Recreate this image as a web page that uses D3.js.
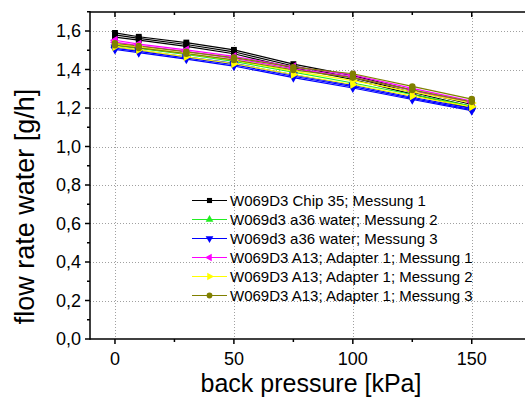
<!DOCTYPE html>
<html><head><meta charset="utf-8">
<script src="https://cdn.jsdelivr.net/npm/d3@7"></script>
<style>body{margin:0;background:#fff}svg{display:block}text{font-family:Arial,"Liberation Sans",sans-serif}</style>
</head><body>
<script>
const pressure = [0, 10, 30, 50, 75, 100, 125, 150];
const seriesNames = ["W069D3 Chip 35; Messung 1","W069d3 a36 water; Messung 2","W069d3 a36 water; Messung 3","W069D3 A13; Adapter 1; Messung 1","W069D3 A13; Adapter 1; Messung 2","W069D3 A13; Adapter 1; Messung 3"];
const seriesColors = ["#000000","#22ee22","#0000ff","#ff00ff","#ffff00","#808000"];
const seriesSymbols = ["square","triangleUp","triangleDown","triangleLeft","triangleRight","circle"];
const chip35 = [
  [1.590,1.570,1.540,1.502,1.428,1.368,1.292,1.218],
  [1.580,1.562,1.530,1.492,1.418,1.358,1.282,1.208],
  [1.568,1.553,1.520,1.482,1.408,1.348,1.272,1.198]];
const a36m2 = [
  [1.525,1.510,1.478,1.442,1.386,1.330,1.270,1.210]];
const a36m3 = [
  [1.516,1.500,1.466,1.432,1.372,1.318,1.256,1.198],
  [1.510,1.494,1.460,1.425,1.365,1.311,1.250,1.192],
  [1.504,1.488,1.454,1.418,1.358,1.304,1.244,1.186]];
const a13m1 = [
  [1.552,1.532,1.502,1.468,1.414,1.372,1.302,1.236],
  [1.542,1.524,1.494,1.458,1.404,1.362,1.292,1.228]];
const a13m2 = [
  [1.532,1.516,1.482,1.448,1.392,1.342,1.284,1.226],
  [1.518,1.502,1.466,1.430,1.374,1.322,1.262,1.206]];
const a13m3 = [
  [1.536,1.522,1.492,1.462,1.412,1.378,1.312,1.246],
  [1.526,1.512,1.482,1.450,1.398,1.358,1.294,1.232]];
const allSeries = [chip35, a36m2, a36m3, a13m1, a13m2, a13m3];
const xTicks = [0, 50, 100, 150];
const xMinor = [25, 75, 125];
const yTicks = [0,0.2,0.4,0.6,0.8,1.0,1.2,1.4,1.6];
const yMinor = [0.1,0.3,0.5,0.7,0.9,1.1,1.3,1.5,1.7];

const W=525,H=401;
const L=90,T=12,B=339;
const x = d3.scaleLinear().domain([-10.5,175]).range([L, L+185.5*2.3785]);
const y = d3.scaleLinear().domain([0,1.7]).range([B, B-1.7*192.5]);
const fmt = d => d.toFixed(1).replace(".", ",");

const svg = d3.select("body").append("svg").attr("width",W).attr("height",H);
const R = x.range()[1];

// grid
const grid = svg.append("g").attr("stroke","#a0a0a0").attr("stroke-width",1).attr("stroke-dasharray","1,2");
grid.selectAll(".gy").data(yTicks.slice(1)).join("line")
  .attr("x1",L).attr("x2",R).attr("y1",d=>Math.round(y(d))+0.5).attr("y2",d=>Math.round(y(d))+0.5);
grid.selectAll(".gx").data(xTicks).join("line")
  .attr("y1",T).attr("y2",B).attr("x1",d=>Math.round(x(d))+0.5).attr("x2",d=>Math.round(x(d))+0.5);

const symMap = {square:d3.symbolSquare, circle:d3.symbolCircle, triangleUp:d3.symbolTriangle, triangleDown:d3.symbolTriangle, triangleLeft:d3.symbolTriangle, triangleRight:d3.symbolTriangle};
const symRot = {square:0,circle:0,triangleUp:0,triangleDown:180,triangleLeft:-90,triangleRight:90};
function marker(g, sym, color, cx, cy, size){
  g.append("path").attr("d", d3.symbol().type(symMap[sym]).size(size)())
   .attr("transform",`translate(${cx},${cy}) rotate(${symRot[sym]})`).attr("fill",color).attr("stroke","none");
}

// data
const line = d3.line().x((d,i)=>x(pressure[i])).y(d=>y(d));
const plot = svg.append("g");
allSeries.forEach((runs, si) => {
  runs.forEach(run => {
    plot.append("path").datum(run).attr("d", line).attr("fill","none")
      .attr("stroke", seriesColors[si]).attr("stroke-width",1.2);
  });
});
allSeries.forEach((runs, si) => {
  runs.forEach(run => {
    run.forEach((v,i) => marker(plot, seriesSymbols[si], seriesColors[si], x(pressure[i]), y(v), 34));
  });
});

// axes
const ax = svg.append("g").attr("stroke","#000").attr("stroke-width",1.5);
ax.append("line").attr("x1",L).attr("x2",L).attr("y1",T-0.75).attr("y2",B+0.75);
ax.append("line").attr("x1",L).attr("x2",R).attr("y1",B).attr("y2",B);
ax.append("line").attr("x1",L).attr("x2",R).attr("y1",T).attr("y2",T);
yTicks.forEach(d=>ax.append("line").attr("x1",L-5).attr("x2",L).attr("y1",y(d)).attr("y2",y(d)));
yMinor.forEach(d=>ax.append("line").attr("x1",L-3).attr("x2",L).attr("y1",y(d)).attr("y2",y(d)));
xTicks.forEach(d=>{
  ax.append("line").attr("x1",x(d)).attr("x2",x(d)).attr("y1",B).attr("y2",B+5);
  ax.append("line").attr("x1",x(d)).attr("x2",x(d)).attr("y1",T).attr("y2",T+5);
});
xMinor.forEach(d=>{
  ax.append("line").attr("x1",x(d)).attr("x2",x(d)).attr("y1",B).attr("y2",B+3);
  ax.append("line").attr("x1",x(d)).attr("x2",x(d)).attr("y1",T).attr("y2",T+3);
});

svg.append("g").selectAll("text").data(yTicks).join("text")
  .attr("x",81).attr("y",d=>y(d)+6).attr("text-anchor","end").attr("font-size",18).text(fmt);
svg.append("g").selectAll("text").data(xTicks).join("text")
  .attr("x",d=>x(d)).attr("y",365).attr("text-anchor","middle").attr("font-size",18).text(d=>d);

svg.append("text").attr("x",311).attr("y",392).attr("text-anchor","middle").attr("font-size",25).text("back pressure [kPa]");
svg.append("text").attr("transform","translate(34,206.5) rotate(-90)").attr("text-anchor","middle").attr("font-size",27).text("flow rate water [g/h]");

// legend
const lg = svg.append("g");
seriesNames.forEach((name,i)=>{
  const ly = 200.5 + i*19;
  lg.append("line").attr("x1",192).attr("x2",227).attr("y1",ly).attr("y2",ly).attr("stroke",seriesColors[i]).attr("stroke-width",1.2);
  marker(lg, seriesSymbols[i], seriesColors[i], 209.5, ly, 26);
  lg.append("text").attr("x",230).attr("y",ly+5.5).attr("font-size",15).text(name);
});
</script>
</body></html>
